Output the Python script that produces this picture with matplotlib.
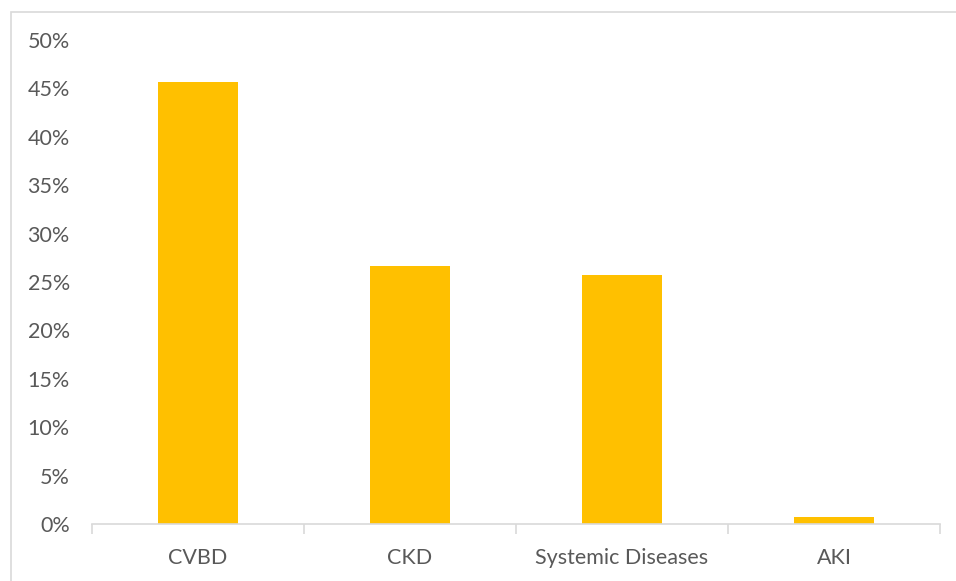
import matplotlib.pyplot as plt
from matplotlib.patches import Rectangle
from matplotlib.ticker import FuncFormatter, FixedLocator

categories = ["CVBD", "CKD", "Systemic Diseases", "AKI"]
values = [0.457, 0.267, 0.257, 0.007]
yticks = [0, 0.05, 0.10, 0.15, 0.20, 0.25, 0.30, 0.35, 0.40, 0.45, 0.50]

plt.rcParams['font.family'] = ['Lato', 'DejaVu Sans']

fig = plt.figure(figsize=(9.56, 5.81), dpi=100)
# light chart border (Excel style), running off the right and bottom edges
fig.patches.append(Rectangle((11 / 956, -0.1), 1.2, 1 - 12 / 581 + 0.1,
                             transform=fig.transFigure, fill=False,
                             edgecolor='#D9D9D9', linewidth=1.2))

ax = fig.add_axes([92 / 956, 1 - 524 / 581, (940 - 92) / 956, (524 - 40) / 581])
x = range(len(categories))
ax.bar(x, values, width=0.38, color='#FFC000')

ax.set_xlim(-0.5, len(categories) - 0.5)
ax.set_ylim(0, 0.5)
ax.set_yticks(yticks)
ax.yaxis.set_major_formatter(FuncFormatter(lambda v, p: f"{v * 100:.0f}%"))
ax.tick_params(axis='y', length=0, labelsize=15.5, labelcolor='#595959', pad=16)

# category labels in the middle, tick marks at the boundaries
ax.set_xticks(list(x))
ax.set_xticklabels(categories)
ax.tick_params(axis='x', which='major', length=0, labelsize=15.5,
               labelcolor='#595959', pad=17)
ax.xaxis.set_minor_locator(FixedLocator([i - 0.5 for i in range(len(categories) + 1)]))
ax.tick_params(axis='x', which='minor', length=7, width=1.2, color='#D9D9D9')

for s in ['top', 'right', 'left']:
    ax.spines[s].set_visible(False)
ax.spines['bottom'].set_color('#D9D9D9')
ax.spines['bottom'].set_linewidth(1.2)

fig.savefig('out.png', dpi=100)
